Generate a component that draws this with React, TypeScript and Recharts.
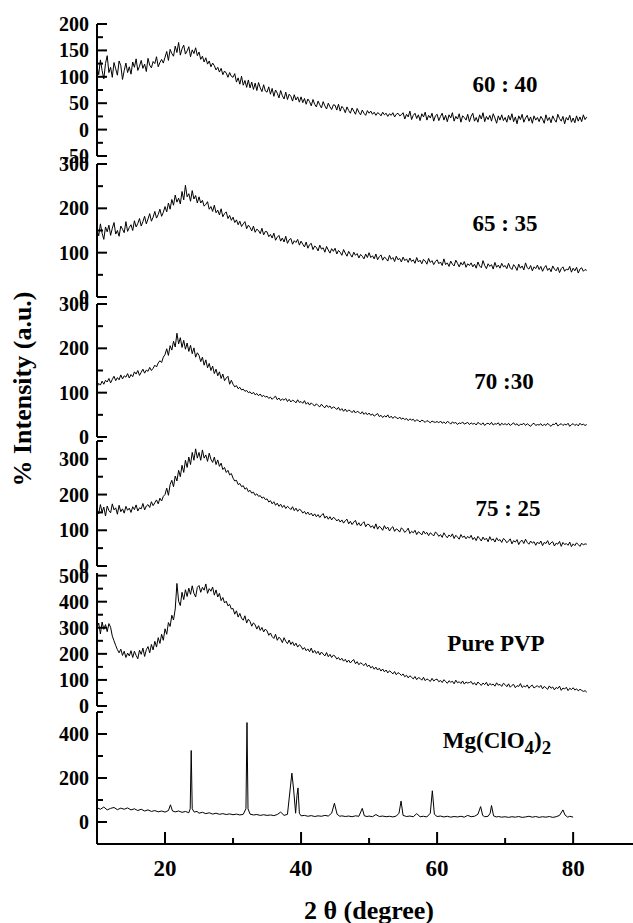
import React from "react";
import { LineChart, Line, XAxis, YAxis } from "recharts";

// 2θ grid of the amorphous scans (start, step in degrees)
const THETA_START = 10;
const THETA_STEP = 0.25;

const ratio6040 = [
  120, 104, 132, 112, 96, 125, 140, 108, 118, 99, 127, 115, 103, 130, 121, 95, 112, 126, 108, 119,
  105, 128, 118, 134, 112, 120, 131, 116, 124, 110, 135, 122, 117, 129, 125, 138, 119, 127, 133, 126,
  137, 148, 131, 152, 144, 139, 158, 146, 165, 141, 153, 160, 143, 149, 157, 138, 151, 144, 155, 140,
  147, 133, 139, 128, 136, 124, 130, 119, 126, 121, 113, 118, 109, 116, 104, 111, 107, 99, 108, 101,
  99, 106, 90, 98, 86, 101, 84, 93, 80, 94, 79, 90, 76, 88, 74, 89, 79, 72, 85, 73,
  71, 81, 67, 78, 63, 75, 69, 60, 74, 64, 58, 71, 57, 67, 63, 54, 66, 56, 62, 52,
  62, 51, 59, 48, 58, 53, 45, 57, 48, 43, 54, 47, 41, 53, 45, 39, 50, 43, 38, 47,
  46, 37, 48, 35, 44, 40, 32, 43, 36, 31, 41, 35, 29, 40, 33, 28, 37, 31, 27, 36,
  31, 35, 29, 33, 27, 32, 30, 26, 33, 28, 31, 25, 30, 27, 32, 24, 29, 31, 26, 28,
  32, 20, 29, 24, 35, 19, 27, 31, 21, 28, 17, 30, 24, 33, 18, 27, 22, 31, 16, 26,
  29, 17, 25, 31, 18, 27, 15, 28, 22, 32, 16, 25, 20, 30, 14, 26, 23, 18, 29, 15,
  25, 31, 16, 23, 14, 28, 20, 32, 15, 25, 19, 27, 16, 30, 22, 12, 26, 18, 28, 17,
  23, 14, 27, 18, 30, 15, 24, 11, 26, 19, 29, 14, 22, 27, 16, 24, 12, 26, 18, 23,
  15, 25, 20, 12, 28, 17, 23, 13, 26, 19, 14, 29, 21, 16, 25, 11, 23, 18, 27, 14,
  22, 13, 26, 16, 24, 15, 28, 19, 24,
];

const ratio6535 = [
  152, 138, 165, 144, 130, 158, 147, 162, 139, 155, 168, 142, 150, 137, 160, 153, 145, 170, 148, 157,
  163, 150, 172, 158, 166, 177, 160, 170, 182, 165, 176, 188, 171, 180, 193, 178, 186, 198, 182, 191,
  204, 192, 212, 198, 220, 207, 230, 214, 223, 210, 238, 219, 252, 226, 233, 216, 240, 221, 229, 212,
  226, 212, 218, 205, 209, 215, 198, 204, 193, 207, 190, 196, 185, 199, 181, 188, 192, 177, 184, 173,
  180, 168, 174, 163, 171, 159, 165, 170, 154, 162, 157, 149, 160, 146, 153, 150, 143, 155, 140, 148,
  147, 136, 141, 133, 144, 128, 135, 139, 126, 133, 124, 137, 121, 129, 132, 119, 127, 123, 130, 117,
  126, 119, 113, 124, 110, 118, 121, 107, 115, 112, 104, 117, 108, 111, 101, 114, 106, 99, 109, 103,
  110, 97, 105, 101, 94, 107, 99, 92, 103, 96, 90, 101, 94, 98, 88, 96, 92, 86, 97, 89,
  100, 89, 93, 86, 97, 84, 91, 95, 83, 90, 87, 81, 94, 85, 89, 80, 92, 84, 87, 79,
  90, 82, 86, 78, 88, 80, 84, 76, 89, 79, 83, 75, 85, 81, 74, 87, 78, 82, 73, 80,
  84, 75, 79, 71, 86, 73, 77, 69, 81, 74, 70, 83, 76, 68, 78, 72, 80, 67, 75, 71,
  77, 68, 74, 65, 79, 70, 66, 82, 71, 64, 75, 69, 73, 63, 78, 67, 72, 65, 76, 68,
  71, 64, 76, 66, 62, 73, 68, 60, 74, 65, 70, 61, 77, 66, 63, 71, 59, 68, 64, 72,
  62, 69, 58, 66, 71, 60, 65, 57, 70, 63, 59, 67, 55, 64, 68, 58, 63, 61, 69, 56,
  65, 59, 67, 54, 63, 66, 58, 62, 60,
];

const ratio7030 = [
  112, 121, 117, 126, 119, 128, 124, 132, 122, 130, 137, 127, 134, 129, 140, 131, 138, 135, 143, 133,
  141, 136, 147, 142, 150, 139, 146, 153, 144, 151, 148, 157, 150, 155, 162, 158, 167, 172, 168, 180,
  186, 199, 184, 206, 196, 216, 203, 234, 210, 224, 202, 218, 198, 212, 193, 207, 188, 201, 180, 190,
  184, 170, 180, 162, 174, 156, 166, 150, 160, 143, 153, 138, 147, 132, 142, 127, 133, 137, 119, 128,
  119, 113, 116, 109, 112, 106, 108, 103, 105, 100, 102, 97, 101, 95, 98, 93, 97, 91, 94, 90,
  92, 87, 90, 85, 89, 92, 84, 88, 82, 86, 83, 87, 80, 85, 79, 83, 81, 77, 84, 78,
  80, 76, 82, 74, 78, 72, 77, 73, 70, 75, 71, 68, 74, 69, 66, 72, 67, 70, 64, 68,
  66, 62, 67, 60, 64, 58, 63, 57, 61, 59, 55, 60, 54, 58, 56, 52, 57, 51, 55, 50,
  54, 49, 52, 47, 50, 53, 46, 49, 44, 48, 45, 50, 43, 47, 42, 46, 44, 41, 45, 40,
  43, 39, 42, 37, 41, 38, 40, 35, 39, 37, 34, 38, 36, 33, 37, 35, 32, 36, 34, 33,
  35, 32, 36, 31, 34, 30, 35, 33, 29, 34, 31, 33, 28, 32, 30, 34, 29, 31, 33, 28,
  32, 29, 31, 27, 33, 30, 28, 32, 26, 30, 31, 28, 33, 27, 30, 29, 32, 26, 31, 28,
  30, 27, 31, 26, 29, 32, 27, 30, 25, 29, 28, 31, 26, 30, 27, 24, 29, 31, 26, 28,
  27, 30, 25, 29, 26, 31, 27, 24, 29, 28, 32, 25, 28, 30, 26, 29, 27, 31, 24, 28,
  30, 26, 29, 25, 31, 27, 29, 26, 28,
];

const ratio7525 = [
  160, 146, 172, 151, 165, 140, 168, 155, 149, 174, 157, 163, 145, 170, 152, 160, 148, 167, 156, 162,
  150, 166, 158, 171, 154, 163, 160, 175, 157, 168, 172, 164, 180, 169, 177, 185, 174, 190, 182, 195,
  200, 218, 198, 228, 240, 222, 252, 238, 268, 250, 282, 262, 296, 276, 305, 284, 318, 296, 328, 302,
  318, 296, 325, 302, 311, 293, 316, 299, 290, 305, 284, 297, 279, 288, 270, 276, 262, 268, 255, 259,
  246, 238, 240, 228, 231, 222, 225, 215, 219, 208, 212, 204, 207, 198, 202, 195, 197, 190, 193, 186,
  188, 179, 183, 174, 180, 170, 176, 167, 173, 164, 170, 161, 167, 163, 158, 166, 155, 162, 153, 159,
  156, 148, 153, 145, 151, 143, 148, 140, 146, 138, 144, 136, 142, 147, 134, 140, 131, 138, 129, 136,
  133, 126, 131, 123, 129, 120, 127, 131, 118, 125, 116, 123, 128, 114, 121, 112, 119, 124, 110, 117,
  116, 108, 113, 105, 118, 103, 111, 107, 100, 113, 104, 109, 98, 106, 110, 97, 104, 101, 95, 107,
  102, 94, 99, 106, 91, 97, 93, 100, 88, 96, 92, 87, 98, 90, 94, 85, 93, 89, 84, 95,
  91, 83, 88, 80, 93, 85, 79, 87, 82, 90, 77, 86, 81, 75, 88, 80, 84, 76, 83, 78,
  86, 74, 80, 71, 83, 77, 70, 81, 73, 78, 68, 82, 72, 76, 67, 79, 71, 74, 66, 77,
  73, 65, 70, 76, 62, 71, 67, 74, 60, 69, 72, 63, 75, 66, 61, 70, 64, 68, 58, 67,
  62, 70, 57, 66, 63, 71, 59, 65, 68, 56, 64, 61, 69, 55, 66, 60, 63, 58, 67, 54,
  62, 57, 65, 60, 55, 64, 59, 62, 61,
];

const purePvp = [
  300, 318, 276, 322, 294, 312, 285, 316, 302, 268, 250, 232, 216, 204, 218, 194, 210, 186, 203, 192,
  212, 186, 210, 194, 181, 214, 198, 222, 190, 216, 228, 204, 236, 215, 248, 226, 262, 240, 275, 252,
  296, 275, 320, 305, 348, 330, 372, 470, 402, 385, 436, 408, 446, 420, 452, 428, 461, 432, 418, 455,
  462, 436, 455, 444, 468, 432, 450, 440, 456, 425, 445, 418, 432, 404, 416, 395, 402, 384, 390, 372,
  374, 352, 365, 341, 355, 337, 329, 346, 318, 333, 324, 306, 319, 311, 295, 308, 290, 301, 284, 295,
  288, 271, 280, 266, 259, 275, 252, 264, 257, 243, 262, 248, 239, 253, 236, 246, 231, 241, 226, 235,
  229, 217, 224, 212, 219, 208, 222, 204, 213, 201, 210, 196, 207, 199, 192, 205, 189, 198, 186, 195,
  191, 180, 186, 176, 183, 172, 179, 168, 176, 165, 173, 178, 162, 170, 158, 166, 161, 155, 164, 151,
  157, 146, 152, 141, 149, 138, 145, 134, 142, 131, 138, 127, 135, 130, 123, 132, 120, 128, 124, 117,
  123, 112, 118, 108, 116, 110, 104, 113, 101, 109, 106, 99, 110, 97, 104, 100, 94, 106, 96, 101,
  103, 93, 98, 90, 101, 94, 87, 97, 91, 95, 85, 99, 89, 93, 86, 96, 84, 92, 88, 90,
  94, 83, 89, 80, 92, 85, 79, 88, 82, 91, 77, 86, 81, 84, 76, 89, 80, 83, 75, 87,
  82, 74, 85, 72, 79, 83, 70, 78, 75, 86, 71, 77, 73, 81, 68, 76, 80, 69, 74, 78,
  71, 79, 66, 75, 70, 64, 77, 68, 73, 62, 71, 67, 76, 60, 69, 65, 72, 59, 68, 63,
  70, 61, 66, 58, 64, 60, 56, 59, 53,
];

// Mg(ClO4)2 scan: [2θ, counts], sharp reflections need extra points
const mgPerchlorate: [number, number][] = [
  [10, 65], [10.5, 58], [11, 68], [11.5, 55], [12, 62], [12.5, 66], [13, 56], [13.5, 63], [14, 58], [14.5, 64],
  [15, 55], [15.5, 60], [16, 52], [16.5, 58], [17, 50], [17.5, 55], [18, 48], [18.5, 52], [19, 46], [19.5, 50],
  [20, 45], [20.5, 52], [20.8, 78], [21.1, 50], [21.5, 46], [22, 50], [22.5, 44], [23, 48], [23.5, 42],
  [23.7, 60], [23.85, 325], [24.0, 60], [24.3, 45], [24.7, 48], [25, 40], [25.5, 44], [26, 38], [26.5, 42],
  [27, 36], [27.5, 40], [28, 35], [28.5, 38], [29, 34], [29.5, 37], [30, 33], [30.5, 36], [31, 32], [31.5, 35],
  [31.9, 60], [32.05, 452], [32.2, 60], [32.5, 36], [33, 32], [33.5, 34], [34, 30], [34.5, 33], [35, 30],
  [35.5, 32], [36, 29], [36.5, 34], [37, 45], [37.5, 30], [38, 35], [38.4, 150], [38.65, 222], [38.9, 150],
  [39.2, 40], [39.4, 120], [39.55, 155], [39.75, 40], [40, 28], [40.5, 30], [41, 26], [41.5, 29], [42, 25],
  [42.5, 28], [43, 26], [43.5, 30], [44, 27], [44.5, 40], [44.9, 85], [45.3, 35], [45.7, 26], [46, 28],
  [46.5, 25], [47, 27], [47.5, 24], [48, 28], [48.5, 26], [49, 62], [49.3, 28], [49.7, 25], [50, 27],
  [50.5, 24], [51, 34], [51.5, 25], [52, 27], [52.5, 24], [53, 26], [53.5, 23], [54, 27], [54.4, 40],
  [54.7, 95], [55, 30], [55.5, 25], [56, 27], [56.5, 24], [57, 38], [57.5, 24], [58, 26], [58.5, 23],
  [59, 40], [59.3, 142], [59.6, 35], [60, 25], [60.5, 27], [61, 23], [61.5, 26], [62, 22], [62.5, 25],
  [63, 23], [63.5, 26], [64, 22], [64.5, 30], [65, 24], [65.5, 26], [66, 35], [66.4, 70], [66.7, 30],
  [67, 24], [67.5, 26], [67.8, 40], [68, 75], [68.3, 28], [68.7, 23], [69, 25], [69.5, 22], [70, 24],
  [70.5, 21], [71, 24], [71.5, 22], [72, 25], [72.5, 21], [73, 23], [73.5, 26], [74, 22], [74.5, 25],
  [75, 21], [75.5, 24], [76, 22], [76.5, 25], [77, 21], [77.5, 24], [78, 30], [78.5, 55], [78.8, 32],
  [79.2, 22], [79.5, 26], [80, 22],
];

const thetaTicks = [20, 30, 40, 50, 60, 70, 80];
const thetaLabels = [20, 40, 60, 80];

const FONT = '"Liberation Serif", "Times New Roman", serif';
const WIDTH = 633;
const AXIS_W = 97;
const PAD = 16;
const X_DOMAIN = [10, 88.8];

const toRows = (values: number[]) =>
  values.map((v, i) => ({ theta: THETA_START + i * THETA_STEP, v }));

const panels = [
  { key: "p6040", rows: toRows(ratio6040), top: 24, height: 132, domain: [-50, 200],
    ticks: [-50, -25, 0, 25, 50, 75, 100, 125, 150, 175, 200], major: [-50, 0, 50, 100, 150, 200] },
  { key: "p6535", rows: toRows(ratio6535), top: 164, height: 133, domain: [0, 300],
    ticks: [0, 50, 100, 150, 200, 250, 300], major: [0, 100, 200, 300] },
  { key: "p7030", rows: toRows(ratio7030), top: 304, height: 133, domain: [0, 300],
    ticks: [0, 50, 100, 150, 200, 250, 300], major: [0, 100, 200, 300] },
  { key: "p7525", rows: toRows(ratio7525), top: 441, height: 125, domain: [0, 350],
    ticks: [0, 50, 100, 150, 200, 250, 300, 350], major: [0, 100, 200, 300] },
  { key: "pPvp", rows: toRows(purePvp), top: 573, height: 133, domain: [0, 510],
    ticks: [0, 50, 100, 150, 200, 250, 300, 350, 400, 450, 500], major: [0, 100, 200, 300, 400, 500] },
  { key: "pMg", rows: mgPerchlorate.map(([theta, v]) => ({ theta, v })), top: 712, height: 132, domain: [-100, 500],
    ticks: [-100, 0, 100, 200, 300, 400, 500], major: [0, 200, 400] },
];

const YTick = ({ x, y, payload, major }: any) => {
  const isMajor = major.includes(payload.value);
  return (
    <g>
      <line x1={x} x2={x + (isMajor ? 10 : 6)} y1={y} y2={y} stroke="#000" strokeWidth={2} />
      {isMajor && (
        <text x={x - 8} y={y} textAnchor="end" dominantBaseline="central"
          fontFamily={FONT} fontWeight="bold" fontSize={20} fill="#000">
          {payload.value}
        </text>
      )}
    </g>
  );
};

const XTick = ({ x, y, payload }: any) => {
  const isMajor = thetaLabels.includes(payload.value);
  return (
    <g>
      <line x1={x} x2={x} y1={y} y2={y - (isMajor ? 12 : 6)} stroke="#000" strokeWidth={2} />
      {isMajor && (
        <text x={x} y={y + 24} textAnchor="middle" dominantBaseline="central"
          fontFamily={FONT} fontWeight="bold" fontSize={23} fill="#000">
          {payload.value}
        </text>
      )}
    </g>
  );
};

const labelStyle = { fontFamily: FONT, fontWeight: "bold" as const, fontSize: 23, fill: "#000" };

export default function App() {
  return (
    <div style={{ position: "absolute", left: 0, top: 0, width: WIDTH, height: 923, background: "#fff" }}>
      {panels.map((p, i) => {
        const first = i === 0;
        const last = i === panels.length - 1;
        const bottomSpace = last ? 60 : PAD;
        return (
          <div key={p.key} style={{ position: "absolute", left: 0, top: p.top - PAD }}>
            <LineChart
              width={WIDTH}
              height={p.height + PAD + bottomSpace}
              data={p.rows}
              margin={{ top: PAD, right: 0, bottom: last ? 0 : PAD, left: 0 }}
            >
              {first ? (
                <XAxis dataKey="theta" type="number" domain={X_DOMAIN} orientation="top" height={0}
                  tick={false} tickLine={false} axisLine={{ stroke: "#000", strokeWidth: 2 }} allowDataOverflow />
              ) : last ? (
                <XAxis dataKey="theta" type="number" domain={X_DOMAIN} ticks={thetaTicks} interval={0}
                  height={60} tickSize={0} tickMargin={0} tickLine={false} tick={(t: any) => <XTick {...t} />}
                  axisLine={{ stroke: "#000", strokeWidth: 2 }} allowDataOverflow />
              ) : (
                <XAxis dataKey="theta" type="number" domain={X_DOMAIN} hide allowDataOverflow />
              )}
              <YAxis
                type="number"
                domain={p.domain}
                ticks={p.ticks}
                interval={0}
                width={AXIS_W}
                tickSize={0}
                tickMargin={0}
                tickLine={false}
                axisLine={{ stroke: "#000", strokeWidth: 2 }}
                tick={(t: any) => <YTick {...t} major={p.major} />}
                allowDataOverflow
              />
              <Line type="linear" dataKey="v" stroke="#000" strokeWidth={1} dot={false} isAnimationActive={false} />
            </LineChart>
          </div>
        );
      })}
      <svg width={WIDTH} height={923} style={{ position: "absolute", left: 0, top: 0, pointerEvents: "none" }}>
        <text x={505} y={84} textAnchor="middle" dominantBaseline="central" {...labelStyle}>60 : 40</text>
        <text x={505} y={223} textAnchor="middle" dominantBaseline="central" {...labelStyle}>65 : 35</text>
        <text x={504} y={381} textAnchor="middle" dominantBaseline="central" {...labelStyle}>70 :30</text>
        <text x={508} y={508} textAnchor="middle" dominantBaseline="central" {...labelStyle}>75 : 25</text>
        <text x={496} y={643} textAnchor="middle" dominantBaseline="central" {...labelStyle}>Pure PVP</text>
        <text x={497} y={748} textAnchor="middle" {...labelStyle}>
          Mg(ClO<tspan fontSize={19} dy={6}>4</tspan><tspan dy={-6}>)</tspan><tspan fontSize={19} dy={6}>2</tspan>
        </text>
        <text x={22} y={389} textAnchor="middle" dominantBaseline="central" transform="rotate(-90 22 389)"
          fontFamily={FONT} fontWeight="bold" fontSize={26} fill="#000">% Intensity (a.u.)</text>
        <text x={369} y={910} textAnchor="middle" dominantBaseline="central"
          fontFamily={FONT} fontWeight="bold" fontSize={26} fill="#000">2 θ (degree)</text>
      </svg>
    </div>
  );
}
